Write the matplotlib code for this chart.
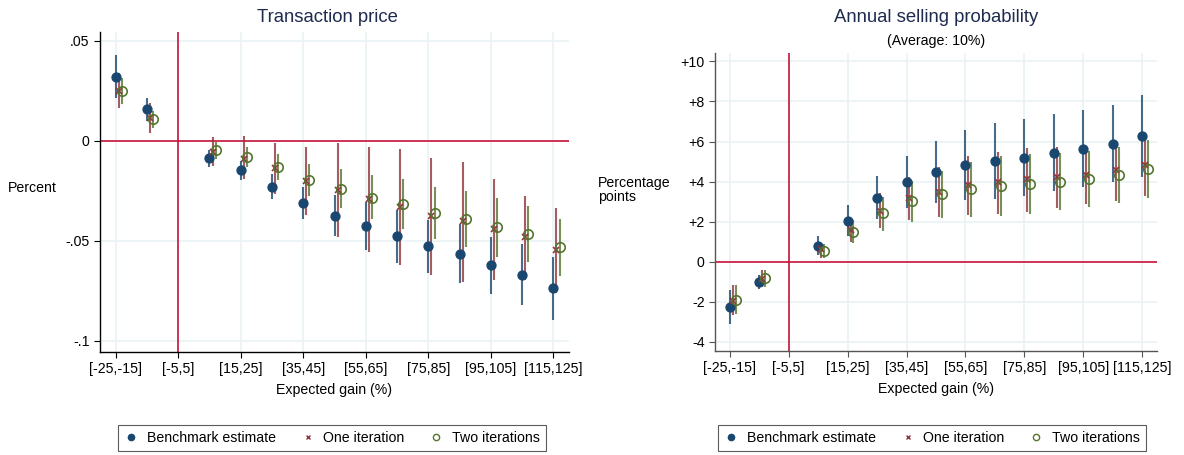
import matplotlib
matplotlib.use("Agg")
import matplotlib.pyplot as plt
from matplotlib.lines import Line2D

plt.rcParams['font.family'] = ['Liberation Sans', 'DejaVu Sans']

# Bin centres of expected gain (%); bin [-5,5] is the reference category
gain_bins = [-20, -10, 10, 20, 30, 40, 50, 60, 70, 80, 90, 100, 110, 120]
tick_pos = [-20, 0, 20, 40, 60, 80, 100, 120]
tick_labels = ["[-25,-15]", "[-5,5]", "[15,25]", "[35,45]", "[55,65]",
               "[75,85]", "[95,105]", "[115,125]"]

# Transaction price: point estimates and 95% CI bounds
price_bench = [0.0322, 0.0158, -0.0087, -0.0147, -0.0230, -0.0310, -0.0373,
               -0.0423, -0.0477, -0.0527, -0.0563, -0.0620, -0.0668, -0.0737]
price_bench_lo = [0.0213, 0.0102, -0.0128, -0.0195, -0.0292, -0.0392, -0.0477,
                  -0.0547, -0.0608, -0.0662, -0.0712, -0.0763, -0.0820, -0.0895]
price_bench_hi = [0.0430, 0.0213, -0.0045, -0.0098, -0.0167, -0.0228, -0.0271,
                  -0.0303, -0.0345, -0.0395, -0.0415, -0.0478, -0.0517, -0.0578]
price_one = [0.0250, 0.0113, -0.0053, -0.0088, -0.0137, -0.0198, -0.0245,
             -0.0292, -0.0328, -0.0375, -0.0400, -0.0442, -0.0482, -0.0545]
price_one_lo = [0.0163, 0.0042, -0.0125, -0.0192, -0.0267, -0.0372, -0.0482,
                -0.0553, -0.0620, -0.0670, -0.0703, -0.0695, -0.0695, -0.0758]
price_one_hi = [0.0340, 0.0192, 0.0018, 0.0025, -0.0012, -0.0028, -0.0012,
                -0.0028, -0.0040, -0.0083, -0.0103, -0.0192, -0.0273, -0.0337]
price_two = [0.0250, 0.0108, -0.0047, -0.0082, -0.0130, -0.0193, -0.0238,
             -0.0283, -0.0317, -0.0360, -0.0388, -0.0432, -0.0465, -0.0532]
price_two_lo = [0.0185, 0.0063, -0.0090, -0.0132, -0.0195, -0.0275, -0.0337,
                -0.0392, -0.0442, -0.0492, -0.0528, -0.0578, -0.0605, -0.0673]
price_two_hi = [0.0313, 0.0152, -0.0003, -0.0032, -0.0067, -0.0113, -0.0142,
                -0.0172, -0.0190, -0.0228, -0.0250, -0.0287, -0.0325, -0.0392]

# Annual selling probability (percentage points): estimates and 95% CI bounds
sell_bench = [-2.25, -1.02, 0.80, 2.05, 3.20, 3.98, 4.47, 4.83, 5.03, 5.20,
              5.45, 5.63, 5.90, 6.30]
sell_bench_lo = [-3.08, -1.38, 0.33, 1.28, 2.13, 2.70, 2.92, 3.08, 3.12, 3.28,
                 3.53, 3.72, 3.97, 4.25]
sell_bench_hi = [-1.42, -0.67, 1.28, 2.83, 4.28, 5.28, 6.05, 6.58, 6.95, 7.13,
                 7.37, 7.57, 7.83, 8.33]
sell_one = [-1.95, -0.88, 0.62, 1.58, 2.53, 3.20, 3.50, 3.83, 4.00, 4.12,
            4.22, 4.33, 4.58, 4.83]
sell_one_lo = [-2.67, -1.25, 0.17, 0.98, 1.67, 2.08, 2.25, 2.33, 2.37, 2.47,
               2.70, 2.87, 3.05, 3.28]
sell_one_hi = [-1.17, -0.42, 0.88, 2.08, 3.42, 4.22, 4.75, 5.28, 5.50, 5.67,
               5.75, 5.58, 6.05, 6.33]
sell_two = [-1.90, -0.83, 0.53, 1.50, 2.42, 3.05, 3.38, 3.62, 3.78, 3.88,
            4.00, 4.15, 4.35, 4.62]
sell_two_lo = [-2.62, -1.25, 0.17, 0.92, 1.55, 2.00, 2.20, 2.25, 2.28, 2.37,
               2.58, 2.75, 2.92, 3.20]
sell_two_hi = [-1.17, -0.42, 0.88, 2.08, 3.22, 4.05, 4.53, 5.00, 5.28, 5.38,
               5.45, 5.55, 5.75, 6.08]

series_names = ["Benchmark estimate", "One iteration", "Two iterations"]

NAVY = "#1a476f"
MAROON = "#90353b"
GREEN = "#55752f"
REFRED = "#c8143c"
GRID = "#eaf2f3"
TITLE = "#1e2b4f"

offsets = [0.0, 1.0, 2.0]
colors = [NAVY, MAROON, GREEN]
FS = 10.2


def draw_series(ax, k, est, lo, hi):
    xs = [b + offsets[k] for b in gain_bins]
    ax.vlines(xs, lo, hi, color=colors[k], lw=1.5, alpha=0.8, zorder=3)
    if k == 0:
        ax.plot(xs, est, 'o', color=NAVY, ms=6.4, mec=NAVY, zorder=4)
    elif k == 1:
        ax.plot(xs, est, 'x', color=MAROON, ms=3.8, mew=1.2, zorder=4)
    else:
        ax.plot(xs, est, 'o', mfc='none', mec=GREEN, ms=6.8, mew=1.2, zorder=4)


def style_axes(ax, spine_color):
    ax.set_xlim(-25, 125)
    ax.set_xticks(tick_pos)
    ax.set_xticklabels(tick_labels)
    ax.grid(True, color=GRID, lw=1.2, zorder=0)
    ax.set_axisbelow(True)
    for s in ("top", "right"):
        ax.spines[s].set_visible(False)
    for s in ("left", "bottom"):
        ax.spines[s].set_color(spine_color)
        ax.spines[s].set_linewidth(1.0)
    ax.tick_params(axis='both', labelsize=FS, colors='black',
                   direction='out', length=4, width=0.8)
    ax.tick_params(axis='both', color=spine_color)
    ax.axvline(0, color=REFRED, lw=1.2, zorder=2)
    ax.axhline(0, color=REFRED, lw=1.2, zorder=2)
    ax.set_xlabel("Expected gain (%)", fontsize=FS, labelpad=5)


fig = plt.figure(figsize=(11.84, 4.55), dpi=100)

# Left panel: transaction price
ax1 = fig.add_axes([100 / 1184, 103 / 455, 469 / 1184, 320 / 455])
draw_series(ax1, 0, price_bench, price_bench_lo, price_bench_hi)
draw_series(ax1, 1, price_one, price_one_lo, price_one_hi)
draw_series(ax1, 2, price_two, price_two_lo, price_two_hi)
style_axes(ax1, "black")
ax1.set_ylim(-0.1055, 0.0545)
ax1.set_yticks([0.05, 0, -0.05, -0.1])
ax1.set_yticklabels([".05", "0", "-.05", "-.1"])
fig.text(327 / 1184, 1 - 17 / 455, "Transaction price", fontsize=13.3,
         color=TITLE, ha='center', va='center')
fig.text(8 / 1184, 1 - 188 / 455, "Percent", fontsize=FS,
         ha='left', va='center')

# Right panel: annual selling probability
ax2 = fig.add_axes([715 / 1184, 104 / 455, 442 / 1184, 298 / 455])
draw_series(ax2, 0, sell_bench, sell_bench_lo, sell_bench_hi)
draw_series(ax2, 1, sell_one, sell_one_lo, sell_one_hi)
draw_series(ax2, 2, sell_two, sell_two_lo, sell_two_hi)
style_axes(ax2, "#555555")
ax2.set_ylim(-4.45, 10.42)
yt = [10, 8, 6, 4, 2, 0, -2, -4]
ax2.set_yticks(yt)
ax2.set_yticklabels([f"+{v}" if v > 0 else f"{v}" for v in yt])
fig.text(936 / 1184, 1 - 17 / 455, "Annual selling probability",
         fontsize=13.3, color=TITLE, ha='center', va='center')
fig.text(936 / 1184, 1 - 41 / 455, "(Average: 10%)", fontsize=FS,
         ha='center', va='center')
fig.text(598 / 1184, 1 - 190 / 455, "Percentage\npoints", fontsize=FS,
         ha='left', va='center', linespacing=0.95)

# Legends below each panel
handles = [
    Line2D([], [], ls='none', marker='o', color=NAVY, ms=4.5),
    Line2D([], [], ls='none', marker='x', color=MAROON, ms=3.5, mew=1.0),
    Line2D([], [], ls='none', marker='o', mfc='none', mec=GREEN, ms=4.5, mew=1.0),
]
for cx in (332 / 1184, 932 / 1184):
    leg = fig.legend(handles, series_names, loc='center',
                     bbox_to_anchor=(cx, 1 - 438 / 455), ncol=3,
                     fontsize=FS, frameon=True, fancybox=False,
                     handlelength=1.0, handletextpad=0.6, columnspacing=1.75,
                     borderpad=0.4, edgecolor='#333333')
    leg.get_frame().set_linewidth(0.8)

fig.savefig("out.png", dpi=100)
